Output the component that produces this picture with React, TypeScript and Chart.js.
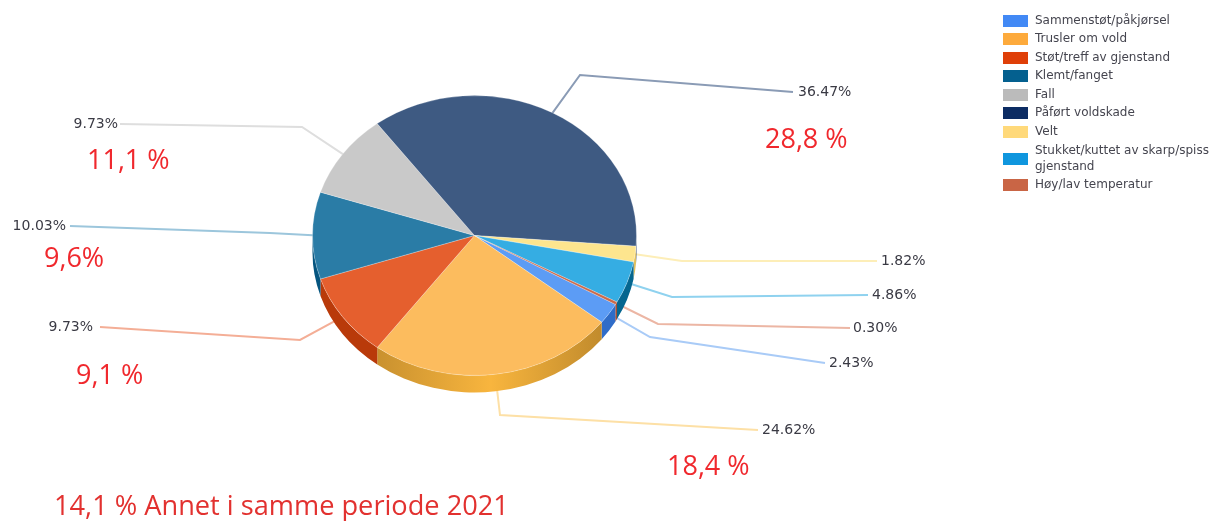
import React, { useEffect, useRef } from "react";
import { Chart, registerables } from "chart.js";

Chart.register(...registerables);

const categories = [
  "Sammenstøt/påkjørsel",
  "Trusler om vold",
  "Støt/treff av gjenstand",
  "Klemt/fanget",
  "Fall",
  "Påført voldskade",
  "Velt",
  "Stukket/kuttet av skarp/spiss gjenstand",
  "Høy/lav temperatur",
];
const values = [2.43, 24.62, 9.73, 10.03, 9.73, 36.47, 1.82, 4.86, 0.3];
const valueLabels = ["2.43%", "24.62%", "9.73%", "10.03%", "9.73%", "36.47%", "1.82%", "4.86%", "0.30%"];
const faceColors = ["#5c9cf5", "#fcbc5e", "#e55f2e", "#2a7ca6", "#c9c9c9", "#3e5a82", "#fde58e", "#35ade3", "#c8694a"];
const wallColors = ["#2f6cc8", "#d99a35", "#b93a0a", "#05557f", "#a8a8a8", "#26406a", "#e0c060", "#05668f", "#a04a30"];
const legendColors = ["#4289f5", "#fdaa3c", "#df3f08", "#04608f", "#bbbbbb", "#0c2c63", "#ffd97a", "#0f96de", "#c96545"];
const lineColors = ["#a9cbf7", "#fde0a6", "#f4ae96", "#9cc6dc", "#dedede", "#8a9bb5", "#fdeeb8", "#8fd2ef", "#ecb6a4"];

// Leader-line layout, per slice: elbow x, elbow y, end x, end y, label x, label alignment.
const leaderLayout: [number, number, number, number, number, CanvasTextAlign][] = [
  [650, 337, 825, 363, 829, "left"],
  [500, 415, 758, 430, 762, "left"],
  [300, 340, 100, 327, 93, "right"],
  [270, 233, 70, 226, 66, "right"],
  [302, 127, 120, 124, 118, "right"],
  [580, 75, 793, 92, 798, "left"],
  [682, 261, 877, 261, 881, "left"],
  [672, 297, 868, 295, 872, "left"],
  [658, 324, 850, 328, 853, "left"],
];

const annotationTexts = ["28,8 %", "11,1 %", "9,6%", "9,1 %", "18,4 %"];
const annotationX = [765, 87, 44, 76, 667];
const annotationY = [140, 161, 259, 376, 467];
const footnote = "14,1 % Annet i samme periode 2021";

const legendLines = [
  ["Sammenstøt/påkjørsel"],
  ["Trusler om vold"],
  ["Støt/treff av gjenstand"],
  ["Klemt/fanget"],
  ["Fall"],
  ["Påført voldskade"],
  ["Velt"],
  ["Stukket/kuttet av skarp/spiss", "gjenstand"],
  ["Høy/lav temperatur"],
];
const legendRowY = [21, 39, 58, 76, 95, 113, 132, 159, 185];

const SQUASH = 0.864;
const DEPTH = 17;

const pie3dPlugin = {
  id: "pie3d",
  beforeDatasetsDraw(chart: any) {
    const ctx: CanvasRenderingContext2D = chart.ctx;
    const arcs = chart.getDatasetMeta(0).data;
    const cx = arcs[0].x;
    const cy = arcs[0].y;
    const rx = arcs[0].outerRadius;
    const ry = rx * SQUASH;

    // leader lines, starting from each slice's mid-angle on the rim
    arcs.forEach((arc: any, i: number) => {
      const mid = (arc.startAngle + arc.endAngle) / 2;
      const [ex, ey, tx, ty, lx, align] = leaderLayout[i];
      ctx.beginPath();
      ctx.moveTo(cx + rx * 0.97 * Math.cos(mid), cy + ry * 0.97 * Math.sin(mid));
      ctx.lineTo(ex, ey);
      ctx.lineTo(tx, ty);
      ctx.strokeStyle = lineColors[i];
      ctx.lineWidth = 2;
      ctx.stroke();
      ctx.font = '14px "DejaVu Sans"';
      ctx.fillStyle = "#3a3a44";
      ctx.textAlign = align;
      ctx.textBaseline = "middle";
      ctx.fillText(valueLabels[i], lx, ty);
    });

    // side wall of the lower half of the pie
    arcs.forEach((arc: any, i: number) => {
      const norm = (a: number) => {
        let v = a % (2 * Math.PI);
        if (v < 0) v += 2 * Math.PI;
        return v;
      };
      const a0 = norm(arc.startAngle);
      const a1 = a0 + (arc.endAngle - arc.startAngle);
      const ranges = [
        [a0, a1],
        [a0 - 2 * Math.PI, a1 - 2 * Math.PI],
      ];
      ranges.forEach(([s, e]) => {
        const from = Math.max(s, 0);
        const to = Math.min(e, Math.PI);
        if (to <= from) return;
        ctx.beginPath();
        ctx.ellipse(cx, cy + DEPTH, rx, ry, 0, from, to);
        ctx.ellipse(cx, cy, rx, ry, 0, to, from, true);
        ctx.closePath();
        if (i === 1) {
          const g = ctx.createLinearGradient(cx - rx * 0.6, 0, cx + rx * 0.8, 0);
          g.addColorStop(0, "#c9912f");
          g.addColorStop(0.5, "#f8b53e");
          g.addColorStop(1, "#c08a2c");
          ctx.fillStyle = g;
        } else {
          ctx.fillStyle = wallColors[i];
        }
        ctx.fill();
      });
    });

    // squash the round pie into the tilted top face
    ctx.save();
    ctx.translate(cx, cy);
    ctx.scale(1, SQUASH);
    ctx.translate(-cx, -cy);
  },
  afterDatasetsDraw(chart: any) {
    chart.ctx.restore();
  },
  afterDraw(chart: any) {
    const ctx: CanvasRenderingContext2D = chart.ctx;
    ctx.save();
    // legend
    ctx.textAlign = "left";
    ctx.textBaseline = "middle";
    legendLines.forEach((lines, i) => {
      const y = legendRowY[i];
      ctx.fillStyle = legendColors[i];
      ctx.fillRect(1003, y - 6, 25, 12);
      ctx.font = '12px "DejaVu Sans"';
      ctx.fillStyle = "#45454f";
      lines.forEach((line, k) => {
        ctx.fillText(line, 1035, y + (k - (lines.length - 1) / 2) * 16);
      });
    });
    // red annotations
    ctx.fillStyle = "#f0282d";
    ctx.font = '27px "Open Sans"';
    annotationTexts.forEach((t, i) => ctx.fillText(t, annotationX[i], annotationY[i]));
    ctx.fillStyle = "#e2312f";
    ctx.font = '27.2px "Open Sans"';
    ctx.fillText(footnote, 54, 507);
    ctx.restore();
  },
};

export default function App() {
  const ref = useRef<HTMLCanvasElement | null>(null);
  useEffect(() => {
    const chart = new Chart(ref.current!, {
      type: "pie",
      data: {
        labels: categories,
        datasets: [
          {
            data: values,
            backgroundColor: faceColors,
            borderWidth: 0.5,
            borderColor: "rgba(255,255,255,0.55)",
            clip: false,
          } as any,
        ],
      },
      options: {
        responsive: false,
        animation: false,
        rotation: 119.5,
        radius: 162,
        layout: { padding: { left: 0, top: 0, right: 270, bottom: 50 } },
        plugins: { legend: { display: false }, tooltip: { enabled: false } },
      } as any,
      plugins: [pie3dPlugin],
    });
    return () => chart.destroy();
  }, []);
  return (
    <div style={{ position: "absolute", left: 0, top: 0, width: 1219, height: 521, background: "#fff" }}>
      <canvas ref={ref} width={1219} height={521} style={{ display: "block", filter: "blur(0.5px)" }} />
    </div>
  );
}
